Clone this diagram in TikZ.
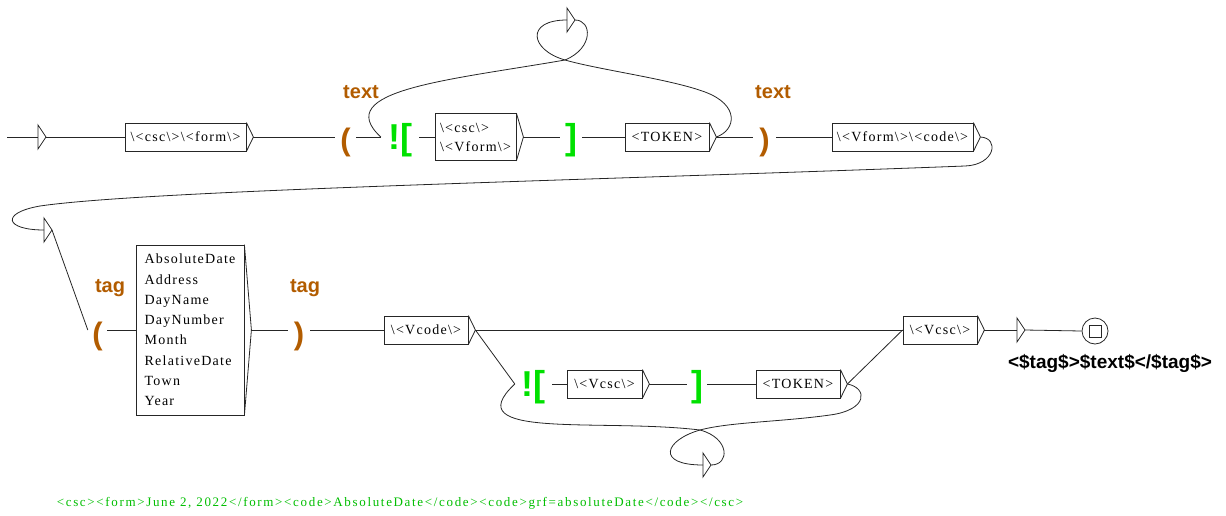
\documentclass[tikz,border=0pt]{standalone}
\usepackage{fontspec}
\setmainfont{Liberation Serif}
\newfontfamily\boxfont[LetterSpace=9]{Liberation Serif}
\newfontfamily\codefont[LetterSpace=12.8]{Liberation Serif}
\newfontfamily\labfont{Liberation Sans}
\usetikzlibrary{calc}
\definecolor{brn}{RGB}{178,92,0}
\definecolor{grn}{RGB}{0,225,0}
\definecolor{grn2}{RGB}{0,190,0}
\tikzset{
 ln/.style={line width=0.8pt, draw=black!85},
 ubox/.style={ln, rectangle, inner sep=0pt, minimum height=28pt, font={\boxfont\fontsize{14}{17}\selectfont}},
 lbl/.style={font={\labfont\bfseries\fontsize{20}{24}\selectfont}, text=brn, inner sep=0pt},
 parn/.style={font={\labfont\bfseries\fontsize{31}{36}\selectfont}, text=brn, inner sep=0pt},
 neg/.style={font={\labfont\bfseries\fontsize{36}{40}\selectfont}, text=grn, inner sep=0pt},
}
\newcommand\outtri[1]{\draw[ln] (#1.north east) -- ([xshift=7pt]#1.east) coordinate (#1o) -- (#1.south east);}
\newcommand\epsbox[3]{\coordinate (#1i) at (#2,#3); \draw[ln] ([yshift=12pt]#1i) -- ([xshift=8pt]#1i) coordinate (#1o) -- ([yshift=-12pt]#1i) -- cycle;}
\newcommand\bs{\textbackslash}
\begin{document}
\begin{tikzpicture}[x=1pt,y=-1pt]
\useasboundingbox (0,0) rectangle (1226,515);
% ---------- top row ----------
\coordinate (s0) at (7,137);
\epsbox{e0}{38}{137}
\node[ubox, minimum width=121pt] (b1) at (185.5,137) {\bs<csc\bs>\bs<form\bs>};
\outtri{b1}
\node[parn, minimum width=21pt] (p1) at (345.5,142.5) {(};
\node[lbl] (t1) at (361,92.5) {text};
\node[neg, minimum width=38pt] (x1) at (400,140.5) {![};
\node[ubox, minimum width=81pt, minimum height=47pt, align=left, font={\boxfont\fontsize{14}{19}\selectfont}] (b2) at (475.5,137) {\bs<csc\bs>\\\bs<Vform\bs>};
\outtri{b2}
\node[neg, minimum width=22pt] (r1) at (571,140.5) {]};
\node[ubox, minimum width=84pt] (b3) at (667,137) {<TOKEN>};
\outtri{b3}
\node[parn, minimum width=23pt] (q1) at (764.5,142.5) {)};
\node[lbl] (t2) at (773,92.5) {text};
\node[ubox, minimum width=141pt] (b4) at (902.5,137) {\bs<Vform\bs>\bs<code\bs>};
\outtri{b4}
\epsbox{e1}{567}{20}
\draw[ln] (s0) -- (e0i);
\draw[ln] (e0o) -- (b1.west);
\draw[ln] (b1o) -- (b1o -| p1.west);
\draw[ln] (p1.east |- b1o) -- (x1.west |- b1o);
\draw[ln] (x1.east |- b2.west) -- (b2.west);
\draw[ln] (b2o) -- (b2o -| r1.west);
\draw[ln] (r1.east |- b3.west) -- (b3.west);
\draw[ln] (b3o) -- (b3o -| q1.west);
\draw[ln] (q1.east |- b4.west) -- (b4.west);
\draw[ln] (b3o) .. controls (736,130) and (740,105) .. (705,92)
  .. controls (670,79) and (600,70) .. (565,60)
  .. controls (530,50) and (525,20) .. (e1i);
\draw[ln] (e1o) .. controls (592,20) and (594,48) .. (565,60)
  .. controls (450,80) and (330,90) .. (x1.west |- b1o);
% ---------- wrap ----------
\epsbox{e2}{44}{230}
\draw[ln] (b4o) .. controls (1000,138) and (995,165) .. (965,166)
  .. controls (600,180) and (150,190) .. (40,206)
  .. controls (0,213) and (5,230) .. (e2i);
% ---------- second row ----------
\node[parn, minimum width=19pt] (p2) at (97.5,336) {(};
\node[lbl] (t3) at (110,288) {tag};
\node[ubox, minimum width=108pt, minimum height=170pt, align=left, font={\boxfont\fontsize{14}{20.3}\selectfont}] (b5) at (190,330)
 {AbsoluteDate\\Address\\DayName\\DayNumber\\Month\\RelativeDate\\Town\\Year};
\outtri{b5}
\node[parn, minimum width=22pt] (q2) at (299,336) {)};
\node[lbl] (t4) at (305,288) {tag};
\node[ubox, minimum width=84pt] (b6) at (426,330) {\bs<Vcode\bs>};
\outtri{b6}
\node[ubox, minimum width=74pt] (b7) at (940,330) {\bs<Vcsc\bs>};
\outtri{b7}
\epsbox{e3}{1017}{330}
\node[ln, draw, circle, minimum size=26pt, inner sep=0pt] (fin) at (1095,331) {};
\node[ln, draw, rectangle, minimum size=12pt, inner sep=0pt] (finsq) at (fin.center) {};
\node[font={\labfont\bfseries\fontsize{19}{23}\selectfont}, inner sep=0pt] (out) at (1110,363) {<\$tag\$>\$text\$</\$tag\$>};
% lower branch
\node[neg, minimum width=37pt] (x2) at (533.5,387.5) {![};
\node[ubox, minimum width=75pt] (b8) at (604.5,384) {\bs<Vcsc\bs>};
\outtri{b8}
\node[neg, minimum width=20pt] (r2) at (697,387.5) {]};
\node[ubox, minimum width=84pt] (b9) at (798,384) {<TOKEN>};
\outtri{b9}
\epsbox{e4}{703}{465}
\draw[ln] (e2o) -- (p2.west |- b5.west);
\draw[ln] (p2.east |- b5.west) -- (b5.west);
\draw[ln] (b5o) -- (b5o -| q2.west);
\draw[ln] (q2.east |- b6.west) -- (b6.west);
\draw[ln] (b6o) -- (b7.west);
\draw[ln] (b6o) -- (x2.west |- b8.west);
\draw[ln] (x2.east |- b8.west) -- (b8.west);
\draw[ln] (b8o) -- (b8o -| r2.west);
\draw[ln] (r2.east |- b9.west) -- (b9.west);
\draw[ln] (b9o) -- (b7.west);
\draw[ln] (b7o) -- (e3i);
\draw[ln] (e3o) -- (fin.west);
\draw[ln] (b9o) .. controls (868,388) and (868,410) .. (830,415)
  .. controls (780,422) and (730,422) .. (700,430)
  .. controls (665,440) and (655,465) .. (e4i);
\draw[ln] (e4o) .. controls (730,465) and (730,438) .. (700,430)
  .. controls (600,418) and (455,440) .. (x2.west |- b8.west);
% ---------- bottom text ----------
\node[font={\codefont\fontsize{13}{16}\selectfont}, text=grn2, inner sep=0pt] (code) at (400,503)
 {<csc><form>June 2, 2022</form><code>AbsoluteDate</code><code>grf=absoluteDate</code></csc>};
\end{tikzpicture}
\end{document}
